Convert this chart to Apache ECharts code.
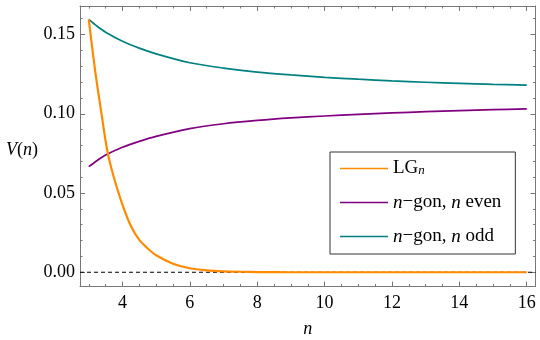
<!DOCTYPE html>
<html>
<head>
<meta charset="utf-8">
<script src="https://cdn.jsdelivr.net/npm/echarts@6/dist/echarts.min.js"></script>
<style>html,body{margin:0;padding:0;background:#fff}#c{width:540px;height:340px}</style>
</head>
<body>
<div id="c"></div>
<script>
// ---- data ----
const lgN  = [3, 3.1, 3.2, 3.3, 3.4, 3.5, 3.6, 3.75, 4, 4.25, 4.5, 4.75, 5, 5.5, 6, 6.5, 7, 7.5, 8, 9, 10, 12, 14, 16];
const lgV  = [0.1595, 0.142, 0.1254, 0.111, 0.0969, 0.0828, 0.0716, 0.0595, 0.0427, 0.0292, 0.0204, 0.0150, 0.0107, 0.0054, 0.0025, 0.0012, 0.0006, 0.0003, 0.0001, 0, 0, 0, 0, 0];
const evenN = [3, 3.25, 3.5, 4, 4.5, 5, 6, 7, 8, 9, 10, 11, 12, 13, 14, 15, 16];
const evenV = [0.0666, 0.0705, 0.0740, 0.0789, 0.0826, 0.0857, 0.0906, 0.0937, 0.0958, 0.0974, 0.0986, 0.0996, 0.1005, 0.1013, 0.1020, 0.1026, 0.1031];
const oddN = [3, 3.25, 3.5, 4, 4.5, 5, 6, 7, 8, 9, 10, 11, 12, 13, 14, 15, 16];
const oddV = [0.1595, 0.1552, 0.1515, 0.1458, 0.1414, 0.1378, 0.1322, 0.1288, 0.1263, 0.1245, 0.1230, 0.1218, 0.1207, 0.1199, 0.1192, 0.1186, 0.1181];
const xTicks = [4, 6, 8, 10, 12, 14, 16];
const yTicks = [0.00, 0.05, 0.10, 0.15];
const xRange = [2.74, 16.26];
const yRange = [-0.009, 0.168];
const zeroLine = [0, 0];
// --------------------------------------

const FONT = 'Liberation Serif';
const FRAME = '#777';
const zip = (a, b) => a.map((v, i) => [v, b[i]]);

function xFmt(v) {
  const t = xTicks.find(t => Math.abs(t - v) < 1e-6);
  return t === undefined ? '' : String(t);
}
function yFmt(v) {
  const t = yTicks.find(t => Math.abs(t - v) < 1e-9);
  return t === undefined ? '' : t.toFixed(2);
}

function xAxisDef(pos, labels) {
  return {
    type: 'value', position: pos, min: xRange[0], max: xRange[1], splitNumber: 6,
    axisLine: { show: true, onZero: false, lineStyle: { color: FRAME, width: 1 } },
    axisTick: { show: true, inside: true, length: 5, lineStyle: { color: FRAME } },
    minorTick: { show: true, splitNumber: 4, length: 2.5, lineStyle: { color: FRAME } },
    splitLine: { show: false },
    axisLabel: { show: labels, formatter: xFmt, margin: 8, color: '#000', fontFamily: FONT, fontSize: 18, showMinLabel: false, showMaxLabel: false },
    name: labels ? 'n' : '', nameLocation: 'middle', nameGap: 34,
    nameTextStyle: { fontFamily: FONT, fontStyle: 'italic', fontSize: 18, color: '#000' }
  };
}
function yAxisDef(pos, labels) {
  return {
    type: 'value', position: pos, min: yRange[0], max: yRange[1], splitNumber: 4,
    axisLine: { show: true, onZero: false, lineStyle: { color: FRAME, width: 1 } },
    axisTick: { show: true, inside: true, length: 5, lineStyle: { color: FRAME } },
    minorTick: { show: true, splitNumber: 5, length: 2.5, lineStyle: { color: FRAME } },
    splitLine: { show: false },
    axisLabel: { show: labels, formatter: yFmt, margin: 5, color: '#000', fontFamily: FONT, fontSize: 18, showMinLabel: false, showMaxLabel: false }
  };
}

const chart = echarts.init(document.getElementById('c'), null, { renderer: 'canvas' });
const legendLabels = {
  LG: 'LG{s|n}',
  even: '{i|n}−gon, {i|n} even',
  odd: '{i|n}−gon, {i|n} odd'
};
chart.setOption({
  animation: false,
  backgroundColor: '#fff',
  title: {
    text: '{i|V}({i|n})', left: 1, top: 136,
    textStyle: { fontFamily: FONT, fontSize: 18, fontWeight: 'normal', color: '#000',
      rich: { i: { fontFamily: FONT, fontSize: 18, fontStyle: 'italic', color: '#000' } } }
  },
  grid: { left: 80, right: 4.5, top: 6, bottom: 53.5, containLabel: false, outerBoundsMode: 'none' },
  xAxis: [xAxisDef('bottom', true), xAxisDef('top', false)],
  yAxis: [yAxisDef('left', true), yAxisDef('right', false)],
  legend: {
    orient: 'vertical', left: 330, top: 152,
    padding: [7, 14, 8, 10], itemGap: 15, itemWidth: 48, itemHeight: 1.6, itemTextGap: 11,
    icon: 'rect',
    backgroundColor: '#fff', borderColor: '#333', borderWidth: 1,
    data: ['LG', 'even', 'odd'],
    formatter: name => legendLabels[name],
    textStyle: {
      fontFamily: FONT, fontSize: 19, color: '#000', lineHeight: 18,
      rich: {
        i: { fontFamily: FONT, fontSize: 19, fontStyle: 'italic', color: '#000', lineHeight: 18 },
        s: { fontFamily: FONT, fontSize: 13, fontStyle: 'italic', color: '#000', lineHeight: 12, verticalAlign: 'bottom' }
      }
    }
  },
  series: [
    { name: 'zero', type: 'line', data: zip(xRange, zeroLine), symbol: 'none', z: 1, silent: true,
      lineStyle: { color: '#000', width: 1.2, type: [4, 3] } },
    { name: 'even', type: 'line', data: zip(evenN, evenV), symbol: 'none', smooth: 0.3, z: 2,
      itemStyle: { color: '#800080' }, lineStyle: { color: '#800080', width: 1.7 } },
    { name: 'odd', type: 'line', data: zip(oddN, oddV), symbol: 'none', smooth: 0.3, z: 2,
      itemStyle: { color: '#008080' }, lineStyle: { color: '#008080', width: 1.7 } },
    { name: 'LG', type: 'line', data: zip(lgN, lgV), symbol: 'none', smooth: 0.25, z: 3,
      itemStyle: { color: '#ff8a00' }, lineStyle: { color: '#ff8a00', width: 2.2 } }
  ]
});
</script>
</body>
</html>
